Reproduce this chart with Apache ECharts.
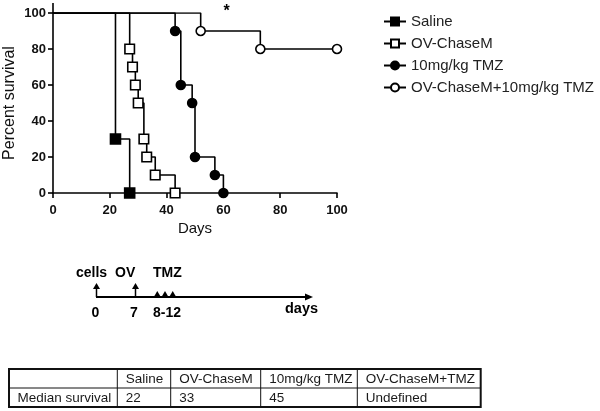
<!DOCTYPE html>
<html>
<head>
<meta charset="utf-8">
<script src="https://cdn.jsdelivr.net/npm/echarts@6/dist/echarts.min.js"></script>
<style>
html,body{margin:0;padding:0;background:#fff;}
#chart{width:600px;height:411px;}
</style>
</head>
<body>
<div id="chart"></div>
<script>
// ---- Data ----
const seriesNames = ['Saline', 'OV-ChaseM', '10mg/kg TMZ', 'OV-ChaseM+10mg/kg TMZ'];
const salineDays = [0, 22, 27];
const salineSurv = [100, 30, 0];
const ovDays = [0, 27, 28, 29, 30, 32, 33, 36, 43];
const ovSurv = [100, 80, 70, 60, 50, 30, 20, 10, 0];
const tmzDays = [0, 43, 45, 49, 50, 57, 60];
const tmzSurv = [100, 90, 60, 50, 20, 10, 0];
const comboDays = [0, 52, 73, 100];
const comboSurv = [100, 90, 80, 80];
const xTicks = [0, 20, 40, 60, 80, 100];
const yTicks = [0, 20, 40, 60, 80, 100];

const timelineTop = ['cells', 'OV', 'TMZ'];
const timelineBottom = ['0', '7', '8-12'];
const timelineUnit = 'days';

const tableHeader = ['', 'Saline', 'OV-ChaseM', '10mg/kg TMZ', 'OV-ChaseM+TMZ'];
const tableRowLabel = 'Median survival';
const medianSurvival = ['22', '33', '45', 'Undefined'];

// ---- Build ----
function pts(d, s) {
  return d.map((x, i) => i === 0 ? { value: [x, s[i]], symbol: 'none' } : [x, s[i]]);
}
const FONT = 'Liberation Sans, Arial, sans-serif';
const black = '#000';

function mkSeries(name, d, s, symbol, filled, size) {
  return {
    name: name,
    type: 'line',
    step: 'end',
    data: pts(d, s),
    symbol: symbol,
    symbolSize: size,
    showAllSymbol: true,
    lineStyle: { color: black, width: 1.6 },
    itemStyle: { color: filled ? black : '#fff', borderColor: black, borderWidth: 1.6 },
    emphasis: { disabled: true },
    animation: false
  };
}

const chart = echarts.init(document.getElementById('chart'), null, { renderer: 'canvas' });

// Table graphics
const colX = [9, 117.3, 170.7, 260.7, 357.3, 480.7];
const rowY = [369, 388, 407];
const tableEls = [];
tableEls.push({ type: 'rect', shape: { x: colX[0], y: rowY[0], width: colX[5] - colX[0], height: rowY[2] - rowY[0] },
  style: { fill: 'none', stroke: '#111', lineWidth: 2 } });
tableEls.push({ type: 'line', shape: { x1: colX[0], y1: rowY[1], x2: colX[5], y2: rowY[1] }, style: { stroke: '#111', lineWidth: 1 } });
for (let i = 1; i < 5; i++) {
  tableEls.push({ type: 'line', shape: { x1: colX[i], y1: rowY[0], x2: colX[i], y2: rowY[2] }, style: { stroke: '#111', lineWidth: 1 } });
}
const rowLabels = [tableHeader, [tableRowLabel].concat(medianSurvival)];
rowLabels.forEach((row, r) => {
  row.forEach((txt, c) => {
    if (!txt) return;
    tableEls.push({ type: 'text', x: colX[c] + 8.5, y: (rowY[r] + rowY[r + 1]) / 2 + 0.5,
      style: { text: txt, font: '13.5px ' + FONT, fill: '#1a1a1a', textVerticalAlign: 'middle', textAlign: 'left' } });
  });
});

// Timeline graphics
const tlY = 297;
const tlEls = [];
tlEls.push({ type: 'line', shape: { x1: 96, y1: tlY, x2: 308, y2: tlY }, style: { stroke: black, lineWidth: 2 } });
tlEls.push({ type: 'polygon', shape: { points: [[313, tlY], [305, tlY - 3.5], [305, tlY + 3.5]] }, style: { fill: black } });
[96.5, 135.5].forEach(x => {
  tlEls.push({ type: 'line', shape: { x1: x, y1: tlY, x2: x, y2: 287 }, style: { stroke: black, lineWidth: 1.5 } });
  tlEls.push({ type: 'polygon', shape: { points: [[x, 283], [x - 3.5, 289], [x + 3.5, 289]] }, style: { fill: black } });
});
[157.3, 165, 172.7].forEach(x => {
  tlEls.push({ type: 'polygon', shape: { points: [[x, 291], [x - 3.5, tlY], [x + 3.5, tlY]] }, style: { fill: black } });
});
const topX = [76, 115, 153];
timelineTop.forEach((t, i) => {
  tlEls.push({ type: 'text', x: topX[i], y: 273.5, style: { text: t, font: 'bold 14px ' + FONT, fill: black, textVerticalAlign: 'middle', textAlign: 'left' } });
});
const botX = [95.5, 134, 167];
timelineBottom.forEach((t, i) => {
  tlEls.push({ type: 'text', x: botX[i], y: 313.5, style: { text: t, font: 'bold 14px ' + FONT, fill: black, textVerticalAlign: 'middle', textAlign: 'center' } });
});
tlEls.push({ type: 'text', x: 285, y: 309, style: { text: timelineUnit, font: 'bold 14.5px ' + FONT, fill: black, textVerticalAlign: 'middle', textAlign: 'left' } });

const option = {
  animation: false,
  backgroundColor: '#fff',
  grid: { left: 53, right: 263, top: 13, bottom: 218, containLabel: false },
  legend: {
    orient: 'vertical',
    left: 378,
    top: 8,
    itemWidth: 22,
    itemHeight: 10,
    itemGap: 5,
    data: seriesNames,
    textStyle: { fontFamily: FONT, fontSize: 15, color: '#222', lineHeight: 17 },
    selectedMode: false
  },
  xAxis: {
    type: 'value',
    min: 0, max: 100, interval: 20,
    name: 'Days',
    nameLocation: 'middle',
    nameGap: 28,
    nameTextStyle: { fontFamily: FONT, fontSize: 15, color: '#111' },
    axisLine: { lineStyle: { color: black, width: 1.6 } },
    axisTick: { show: true, length: 5, lineStyle: { color: black, width: 1.6 } },
    axisLabel: { fontFamily: FONT, fontWeight: 'bold', fontSize: 13, color: '#111', margin: 11 },
    splitLine: { show: false }
  },
  yAxis: {
    type: 'value',
    min: 0, max: 100, interval: 20,
    name: 'Percent survival',
    nameLocation: 'middle',
    nameGap: 35,
    nameTextStyle: { fontFamily: FONT, fontSize: 16, color: '#111' },
    axisLine: { show: true, lineStyle: { color: black, width: 1.6 } },
    axisTick: { show: true, length: 5, lineStyle: { color: black, width: 1.6 } },
    axisLabel: { fontFamily: FONT, fontWeight: 'bold', fontSize: 13, color: '#111', margin: 7 },
    splitLine: { show: false }
  },
  series: [
    mkSeries(seriesNames[0], salineDays, salineSurv, 'rect', true, 10),
    mkSeries(seriesNames[1], ovDays, ovSurv, 'rect', false, 9.5),
    mkSeries(seriesNames[2], tmzDays, tmzSurv, 'circle', true, 9),
    mkSeries(seriesNames[3], comboDays, comboSurv, 'circle', false, 9)
  ],
  graphic: [
    { type: 'line', shape: { x1: 53, y1: 3, x2: 53, y2: 13 }, style: { stroke: black, lineWidth: 1.6 } },
    { type: 'text', x: 226.5, y: 12, style: { text: '*', font: 'bold 16px ' + FONT, fill: black, textAlign: 'center', textVerticalAlign: 'middle' } }
  ].concat(tlEls, tableEls)
};
chart.setOption(option);
</script>
</body>
</html>
